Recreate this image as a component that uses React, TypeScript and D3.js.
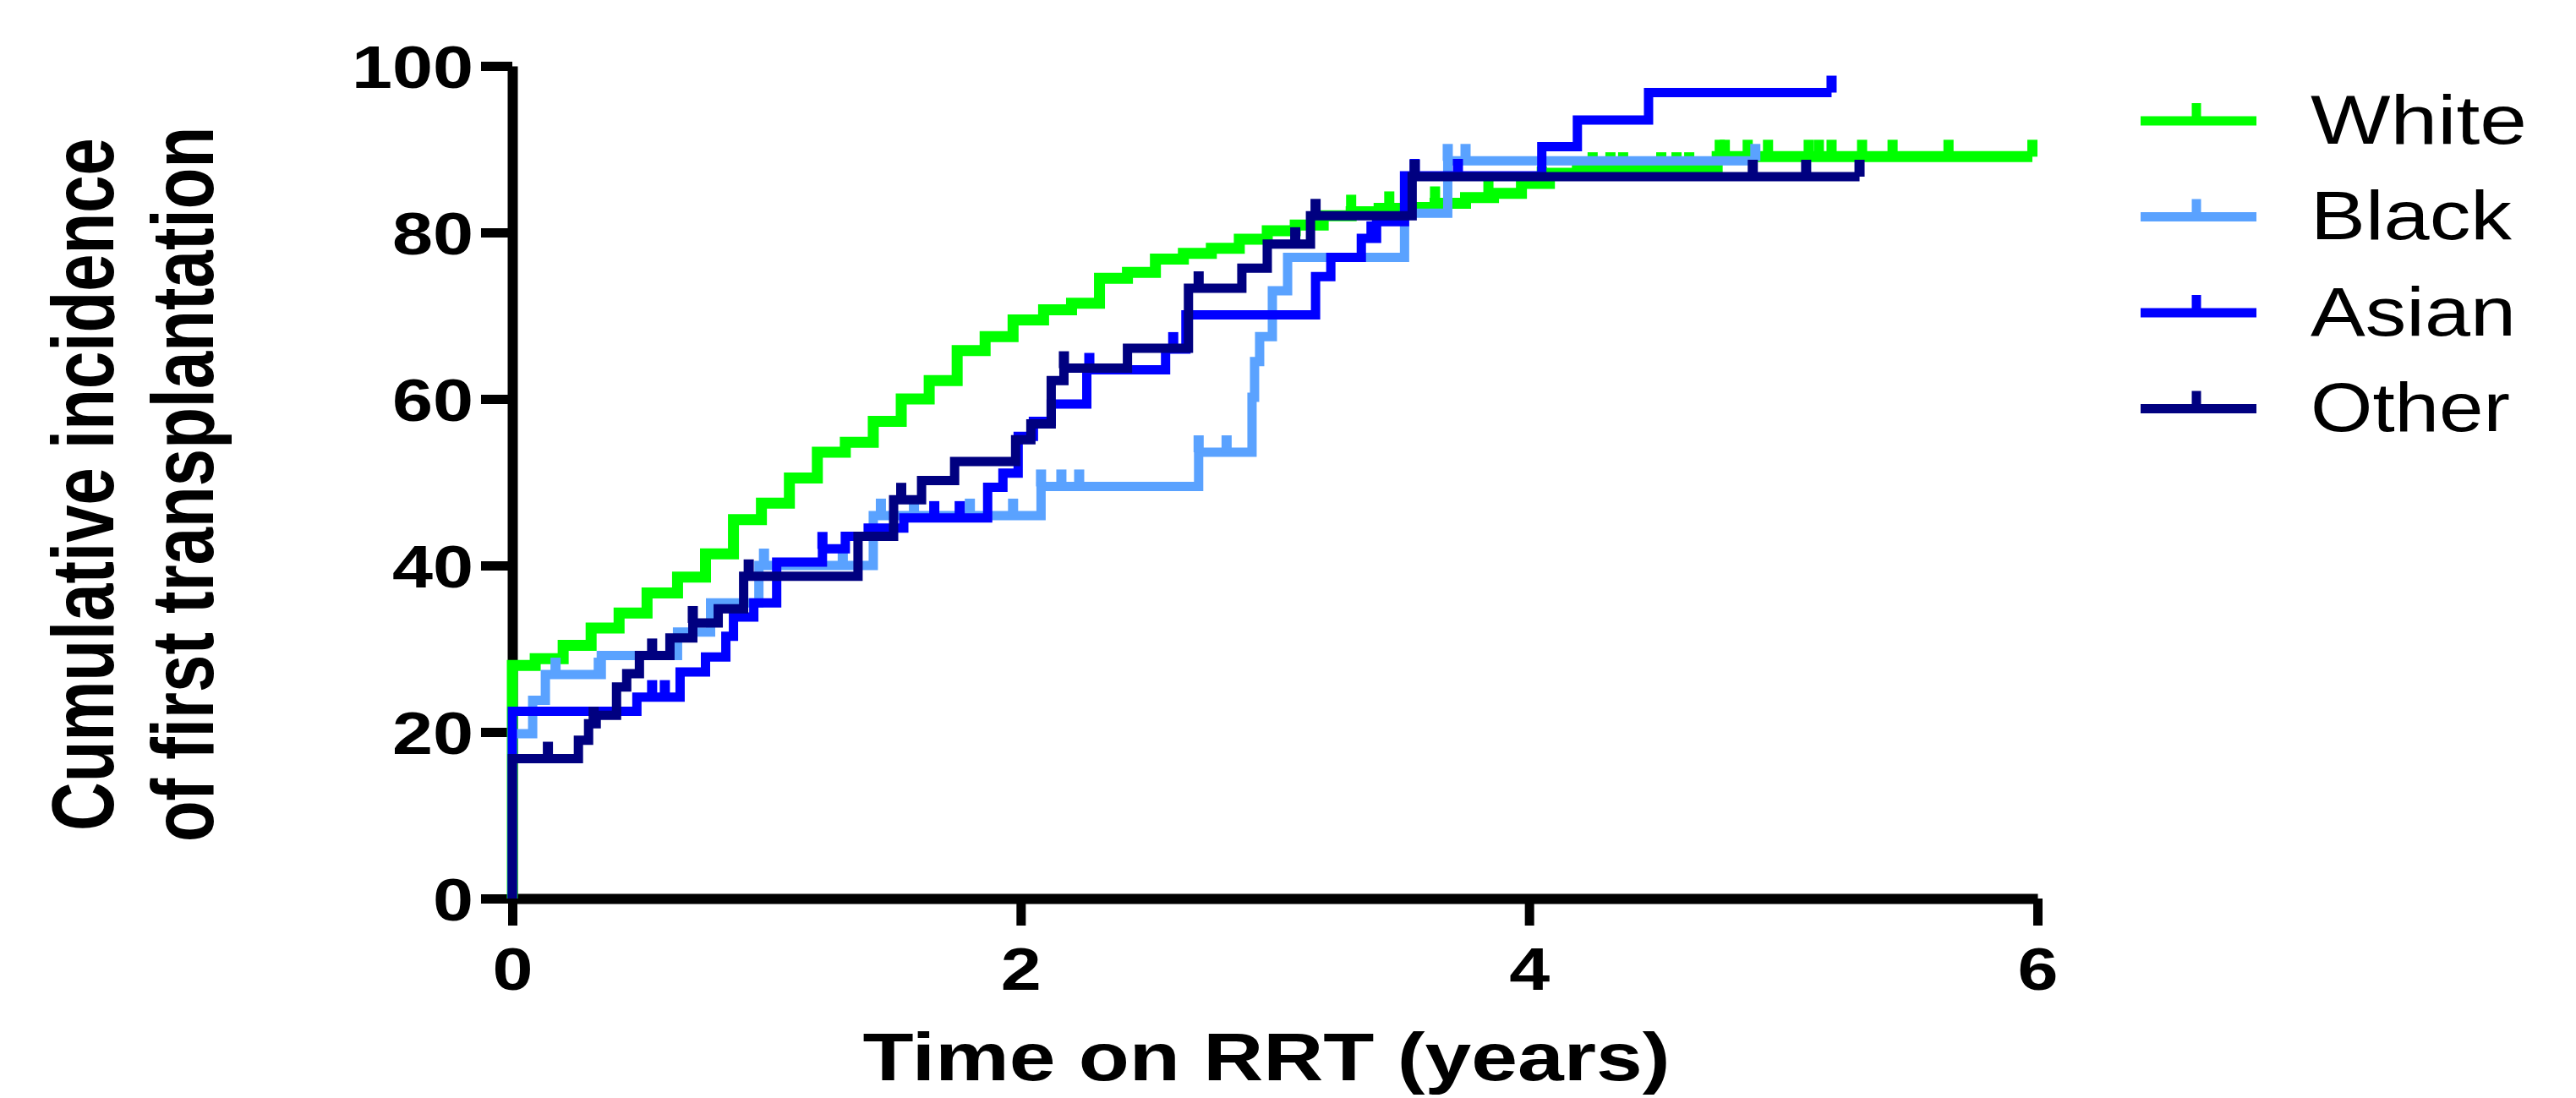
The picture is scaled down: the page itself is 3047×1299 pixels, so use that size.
import React, { useEffect, useRef } from 'react';
import * as d3 from 'd3';

const groups = ['White', 'Black', 'Asian', 'Other'];
const colors = ['#00ff00', '#5aa2ff', '#0000ff', '#000080'];

// cumulative incidence (%) steps: step time (years) -> new level
const whiteTimes = [0, 0.09, 0.2, 0.31, 0.42, 0.53, 0.65, 0.76, 0.87, 0.98, 1.09, 1.2, 1.31, 1.42, 1.53, 1.64, 1.75, 1.86, 1.97, 2.09, 2.2, 2.31, 2.42, 2.53, 2.64, 2.75, 2.86, 2.97, 3.08, 3.19, 3.3, 3.41, 3.52, 3.63, 3.75, 3.86, 3.97, 4.08, 4.19, 4.74];
const whiteValues = [28, 28.8, 30.4, 32.5, 34.3, 36.7, 38.6, 41.4, 45.5, 47.5, 50.5, 53.6, 54.8, 57.3, 60, 62.2, 65.8, 67.5, 69.5, 70.7, 71.5, 74.5, 75.2, 76.8, 77.5, 78.1, 79.2, 80.2, 80.9, 82, 82.5, 82.9, 83, 83.5, 84.2, 84.7, 85.9, 87.1, 87.6, 89.1];
const whiteEnd = 5.98;
const whiteCensored = [3.3, 3.45, 3.63, 3.84, 4.05, 4.25, 4.32, 4.37, 4.52, 4.58, 4.63, 4.75, 4.77, 4.86, 4.94, 5.1, 5.14, 5.19, 5.31, 5.43, 5.65, 5.98];

const blackTimes = [0, 0.08, 0.13, 0.35, 0.65, 0.78, 0.97, 1.42, 2.08, 2.7, 2.91, 2.92, 2.94, 2.99, 3.05, 3.51, 3.68];
const blackValues = [19.8, 23.8, 26.9, 29.2, 32, 35.5, 40, 46, 49.5, 53.6, 60.2, 64.5, 67.5, 73, 77, 82.3, 88.6];
const blackEnd = 4.89;
const blackCensored = [0.17, 0.34, 0.99, 1.3, 1.45, 1.58, 1.8, 1.97, 2.08, 2.16, 2.23, 2.7, 2.81, 3.68, 3.75, 4.89];

const asianTimes = [0, 0.49, 0.66, 0.76, 0.84, 0.87, 0.95, 1.04, 1.22, 1.31, 1.4, 1.54, 1.87, 1.93, 1.99, 2.05, 2.12, 2.26, 2.57, 2.65, 3.16, 3.22, 3.34, 3.4, 3.51, 4.05, 4.19, 4.47];
const asianValues = [22.5, 24.2, 27.2, 29, 31.5, 33.8, 35.5, 40.4, 42, 43.5, 44.5, 45.7, 49.4, 51.1, 55.5, 57.3, 59.4, 63.5, 66, 70.1, 74.7, 77, 79.3, 81.3, 86.8, 90.3, 93.5, 96.8];
const asianEnd = 5.19;
const asianCensored = [0.55, 0.6, 1.22, 1.66, 1.76, 2.27, 2.6, 3.38, 3.55, 3.72, 5.19];

const otherTimes = [0, 0.26, 0.3, 0.33, 0.41, 0.45, 0.5, 0.62, 0.71, 0.81, 0.91, 1.36, 1.5, 1.61, 1.74, 1.98, 2.04, 2.12, 2.17, 2.42, 2.66, 2.87, 2.97, 3.14, 3.54];
const otherValues = [16.8, 19, 21, 22, 25.4, 27, 29.2, 31.3, 33.1, 34.8, 38.7, 43.5, 47.9, 50.2, 52.5, 55.1, 57, 62.2, 63.7, 66.1, 73.3, 75.7, 78.6, 82, 86.7];
const otherEnd = 5.3;
const otherCensored = [0.14, 0.32, 0.55, 0.71, 0.93, 1.53, 2.17, 2.7, 3.08, 3.16, 3.55, 4.88, 5.09, 5.3];

const yTicks = [0, 20, 40, 60, 80, 100];
const xTicks = [0, 2, 4, 6];

const FONT = '"Liberation Sans", Arial, sans-serif';

function IncidenceChart() {
  const ref = useRef<SVGSVGElement>(null);

  useEffect(() => {
    drawChart();
  });

  function drawChart() {
    const series = [
      { times: whiteTimes, values: whiteValues, end: whiteEnd, censored: whiteCensored, width: 13 },
      { times: blackTimes, values: blackValues, end: blackEnd, censored: blackCensored, width: 11 },
      { times: asianTimes, values: asianValues, end: asianEnd, censored: asianCensored, width: 11 },
      { times: otherTimes, values: otherValues, end: otherEnd, censored: otherCensored, width: 11 },
    ];

    const svg = d3.select(ref.current);
    svg.selectAll('*').remove();

    const x = d3.scaleLinear().domain([0, 6]).range([606, 2410]);
    const y = d3.scaleLinear().domain([0, 100]).range([1063, 78]);

    // y axis
    const yAxis = svg
      .append('g')
      .attr('transform', `translate(${x(0)},0)`)
      .call(
        d3.axisLeft(y).tickValues(yTicks).tickFormat(d3.format('d')).tickSize(37).tickSizeOuter(0).tickPadding(9)
      );
    yAxis.select('.domain').attr('stroke', '#000').attr('stroke-width', 12);
    yAxis.selectAll('.tick line').attr('stroke', '#000').attr('stroke-width', 11);
    yAxis
      .selectAll('.tick text')
      .attr('fill', '#000')
      .style('font-family', FONT)
      .style('font-weight', 'bold')
      .style('font-size', '71px')
      .attr('dy', '0.36em')
      .attr('textLength', (d: any) => String(d).length * 48)
      .attr('lengthAdjust', 'spacingAndGlyphs');

    // x axis
    const xAxis = svg
      .append('g')
      .attr('transform', `translate(0,${y(0)})`)
      .call(
        d3.axisBottom(x).tickValues(xTicks).tickFormat(d3.format('d')).tickSize(32).tickSizeOuter(0).tickPadding(26)
      );
    xAxis.select('.domain').attr('stroke', '#000').attr('stroke-width', 12);
    xAxis.selectAll('.tick line').attr('stroke', '#000').attr('stroke-width', 11);
    xAxis
      .selectAll('.tick text')
      .attr('fill', '#000')
      .style('font-family', FONT)
      .style('font-weight', 'bold')
      .style('font-size', '71px')
      .attr('textLength', 48)
      .attr('lengthAdjust', 'spacingAndGlyphs');

    // axis titles
    svg
      .append('text')
      .attr('x', 1498)
      .attr('y', 1278)
      .attr('text-anchor', 'middle')
      .attr('textLength', 955)
      .attr('lengthAdjust', 'spacingAndGlyphs')
      .style('font-family', FONT)
      .style('font-weight', 'bold')
      .style('font-size', '80px')
      .text('Time on RRT (years)');

    // two-line y title, squeezed along its length like the original export
    const yTitle = ['Cumulative incidence', 'of first transplantation'];
    const yTitleX = [134, 252];
    yTitle.forEach((line, i) => {
      svg
        .append('text')
        .attr('transform', `translate(${yTitleX[i]},573) rotate(-90) scale(0.767,1)`)
        .attr('text-anchor', 'middle')
        .style('font-family', FONT)
        .style('font-weight', 'bold')
        .style('font-size', '104px')
        .text(line);
    });

    // curves
    const stepLine = d3
      .line<[number, number]>()
      .x((d) => x(d[0]))
      .y((d) => y(d[1]))
      .curve(d3.curveStepAfter);

    series.forEach((s, i) => {
      const pts: [number, number][] = [[0, 0]];
      s.times.forEach((t, j) => pts.push([t, s.values[j]]));
      pts.push([s.end, s.values[s.values.length - 1]]);

      svg
        .append('path')
        .attr('d', stepLine(pts))
        .attr('fill', 'none')
        .attr('stroke', colors[i])
        .attr('stroke-width', s.width)
        .attr('stroke-linejoin', 'miter')
        .attr('stroke-linecap', 'butt');

      const levelAt = (t: number) => {
        const k = d3.bisectRight(s.times, t) - 1;
        return s.values[Math.max(0, k)];
      };

      svg
        .append('g')
        .selectAll('line')
        .data(s.censored)
        .enter()
        .append('line')
        .attr('x1', (d) => x(d))
        .attr('x2', (d) => x(d))
        .attr('y1', (d) => y(levelAt(d)))
        .attr('y2', (d) => y(levelAt(d)) - 20)
        .attr('stroke', colors[i])
        .attr('stroke-width', 12);
    });

    // legend
    const legendLen = [256, 238, 243, 236];
    const legend = svg
      .append('g')
      .selectAll('g.legend')
      .data(groups)
      .enter()
      .append('g')
      .attr('class', 'legend')
      .attr('transform', (d, i) => `translate(0,${143 + i * 113.5})`);

    legend
      .append('line')
      .attr('x1', 2532)
      .attr('x2', 2669)
      .attr('stroke', (d, i) => colors[i])
      .attr('stroke-width', 11);

    legend
      .append('line')
      .attr('x1', 2598)
      .attr('x2', 2598)
      .attr('y1', 0)
      .attr('y2', -21)
      .attr('stroke', (d, i) => colors[i])
      .attr('stroke-width', 11);

    legend
      .append('text')
      .attr('x', 2733)
      .attr('y', 26.5)
      .attr('textLength', (d, i) => legendLen[i])
      .attr('lengthAdjust', 'spacingAndGlyphs')
      .style('font-family', FONT)
      .style('font-size', '81px')
      .text((d) => d);
  }

  return (
    <svg
      ref={ref}
      width={3047}
      height={1299}
      style={{ position: 'absolute', left: 0, top: 0, background: 'white' }}
    />
  );
}

export default function App() {
  return <IncidenceChart />;
}
